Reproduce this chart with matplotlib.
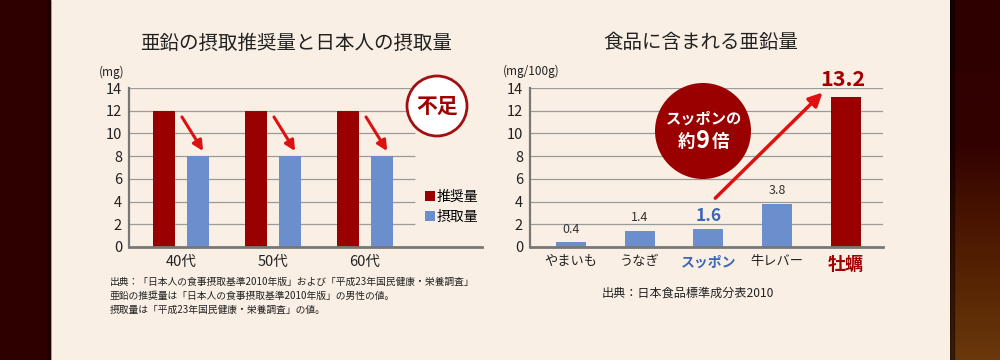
import numpy as np
import matplotlib
matplotlib.use("Agg")
import matplotlib.pyplot as plt
from matplotlib.patches import Ellipse, Rectangle
from matplotlib.colors import LinearSegmentedColormap

plt.rcParams['font.family'] = ['Noto Sans CJK JP', 'DejaVu Sans']

# left chart data
ages = ["40代", "50代", "60代"]
recommended = [12, 12, 12]
intake = [8, 8, 8]
series_names = ["推奨量", "摂取量"]

# right chart data
foods = ["やまいも", "うなぎ", "スッポン", "牛レバー", "牡蠣"]
zinc = [0.4, 1.4, 1.6, 3.8, 13.2]
value_labels = ["0.4", "1.4", "1.6", "3.8", "13.2"]
y_ticks = [0, 2, 4, 6, 8, 10, 12, 14]

RED = "#990000"
BLUE = "#6b8fcc"
ARROW = "#dd1111"
CREAM = "#f9efe4"
GRID = "#9a9a9a"
AXIS = "#777777"
W, H = 1000, 360


def fx(px):
    return px / W


def fy(py):
    return (H - py) / H


fig = plt.figure(figsize=(10, 3.6), dpi=100)
fig.patch.set_facecolor(CREAM)

# dark side strips
fig.add_artist(Rectangle((0, 0), fx(50), 1, transform=fig.transFigure,
                         color="#2e0000", zorder=0))
fig.add_artist(Rectangle((fx(47), 0), fx(3), 1, transform=fig.transFigure,
                         color="#1e0000", zorder=0))
side = fig.add_axes([fx(950), 0, fx(50), 1])
cmap = LinearSegmentedColormap.from_list(
    "side", [(0, "#6a380a"), (0.4, "#481400"), (0.6, "#320200"), (1, "#2e0000")])
grad = np.linspace(0, 1, 256).reshape(-1, 1)
side.imshow(grad, aspect="auto", cmap=cmap, origin="lower", extent=[0, 1, 0, 1])
side.add_patch(Rectangle((0, 0), 0.07, 1, color="black", alpha=0.45))
side.set_axis_off()


def style_axes(ax):
    ax.set_facecolor("none")
    for s in ["top", "right"]:
        ax.spines[s].set_visible(False)
    ax.spines["left"].set_color(AXIS)
    ax.spines["bottom"].set_color(AXIS)
    ax.spines["left"].set_linewidth(1.6)
    ax.spines["bottom"].set_linewidth(2)
    ax.set_ylim(0, 14)
    ax.set_yticks(y_ticks)
    ax.tick_params(axis="y", length=0, pad=5, labelsize=10.5, labelcolor="#222")
    ax.tick_params(axis="x", length=0, pad=6)


# ---- left chart ----
ax1 = fig.add_axes([fx(129), fy(247), fx(482) - fx(129), fy(88) - fy(247)])
style_axes(ax1)
xg = np.arange(len(ages))
bw = 0.24
off = 0.185
gx_end = (415 - 129) / (482 - 129)
ax1.hlines(y_ticks[1:], 0, gx_end, transform=ax1.get_yaxis_transform(),
           color=GRID, lw=0.9, zorder=0)
b1 = ax1.bar(xg - off, recommended, bw, color=RED, zorder=2, label=series_names[0])
b2 = ax1.bar(xg + off, intake, bw, color=BLUE, zorder=2, label=series_names[1])
ax1.set_xlim(-0.565, 3.27)
ax1.set_xticks(xg)
ax1.set_xticklabels(ages, fontsize=10.5, color="#222")
for i in range(len(ages)):
    ax1.annotate("", xy=(xg[i] + 0.24, intake[i] + 0.45),
                 xytext=(xg[i] + 0.01, recommended[i] - 0.55),
                 arrowprops=dict(arrowstyle="-|>,head_length=0.6,head_width=0.3",
                                 color=ARROW, lw=2.2, shrinkA=0, shrinkB=0))
ax1.legend(handles=[b1, b2], loc="upper left", bbox_to_anchor=(0.838, 0.36),
           frameon=False, fontsize=10, handlelength=0.7, handleheight=0.7,
           handletextpad=0.15, labelspacing=0.45, borderpad=0, borderaxespad=0)

fig.text(fx(296), fy(43), "亜鉛の摂取推奨量と日本人の摂取量", ha="center", va="center",
         fontsize=14, color="#222")
fig.text(fx(112), fy(72), "(mg)", ha="center", va="center", fontsize=8.5, color="#222")

fig.add_artist(Ellipse((fx(437), fy(106)), 2 * 30 / W, 2 * 30 / H,
                       transform=fig.transFigure, facecolor="white",
                       edgecolor="#a01010", lw=2, zorder=5))
fig.text(fx(437), fy(106), "不足", ha="center", va="center", fontsize=15,
         fontweight="bold", color="#a00000", zorder=6)

fig.text(fx(110), fy(277),
         "出典：「日本人の食事摂取基準2010年版」および「平成23年国民健康・栄養調査」\n"
         "亜鉛の推奨量は「日本人の食事摂取基準2010年版」の男性の値。\n"
         "摂取量は「平成23年国民健康・栄養調査」の値。",
         ha="left", va="top", fontsize=7.05, color="#222", linespacing=1.5)

# ---- right chart ----
ax2 = fig.add_axes([fx(530), fy(247), fx(883) - fx(530), fy(88) - fy(247)])
style_axes(ax2)
xf = np.arange(len(foods))
ax2.hlines(y_ticks[1:], 0, 1, transform=ax2.get_yaxis_transform(),
           color=GRID, lw=0.9, zorder=0)
bar_colors = [BLUE, BLUE, BLUE, BLUE, RED]
ax2.bar(xf, zinc, 0.435, color=bar_colors, zorder=2)
ax2.set_xlim(-0.596, 4.54)
ax2.set_xticks(xf)
ax2.set_xticklabels(foods, fontsize=9.5, color="#222")
tl = ax2.get_xticklabels()
tl[2].set_color("#3d66b3")
tl[2].set_fontweight("bold")
tl[2].set_fontsize(10)
tl[4].set_color("#a00000")
tl[4].set_fontweight("bold")
tl[4].set_fontsize(13)

for i, v in enumerate(zinc):
    if i == 2:
        ax2.annotate(value_labels[i], (xf[i], v), xytext=(0, 3), textcoords="offset points",
                     ha="center", va="bottom", fontsize=12.5, fontweight="bold",
                     color="#3d66b3")
    elif i == 4:
        ax2.annotate(value_labels[i], (xf[i], v), xytext=(-2, 5), textcoords="offset points",
                     ha="center", va="bottom", fontsize=15.5, fontweight="bold",
                     color="#a00000")
    else:
        ax2.annotate(value_labels[i], (xf[i], v), xytext=(0, 5), textcoords="offset points",
                     ha="center", va="bottom", fontsize=9, color="#333")

ax2.annotate("", xy=(3.66, 13.6), xytext=(2.1, 4.3),
             arrowprops=dict(arrowstyle="-|>,head_length=0.8,head_width=0.4",
                             color=ARROW, lw=2.5, shrinkA=0, shrinkB=0))

fig.text(fx(701), fy(43), "食品に含まれる亜鉛量", ha="center", va="center",
         fontsize=14, color="#222")
fig.text(fx(531), fy(71), "(mg/100g)", ha="center", va="center", fontsize=8.5, color="#222")
fig.text(fx(688), fy(293), "出典：日本食品標準成分表2010", ha="center", va="center",
         fontsize=8.7, color="#222")

fig.add_artist(Ellipse((fx(703), fy(131)), 2 * 48 / W, 2 * 48 / H,
                       transform=fig.transFigure, facecolor="#9a0000",
                       edgecolor="none", zorder=5))
fig.text(fx(704), fy(119), "スッポンの", ha="center", va="center", fontsize=11,
         fontweight="bold", color="white", zorder=6)
fig.text(fx(686), fy(142), "約", ha="center", va="center", fontsize=12.5,
         fontweight="bold", color="white", zorder=6)
fig.text(fx(703), fy(141), "9", ha="center", va="center", fontsize=17,
         fontweight="bold", color="white", zorder=6)
fig.text(fx(720), fy(142), "倍", ha="center", va="center", fontsize=12.5,
         fontweight="bold", color="white", zorder=6)

fig.savefig("out.png", dpi=100, facecolor=fig.get_facecolor())
